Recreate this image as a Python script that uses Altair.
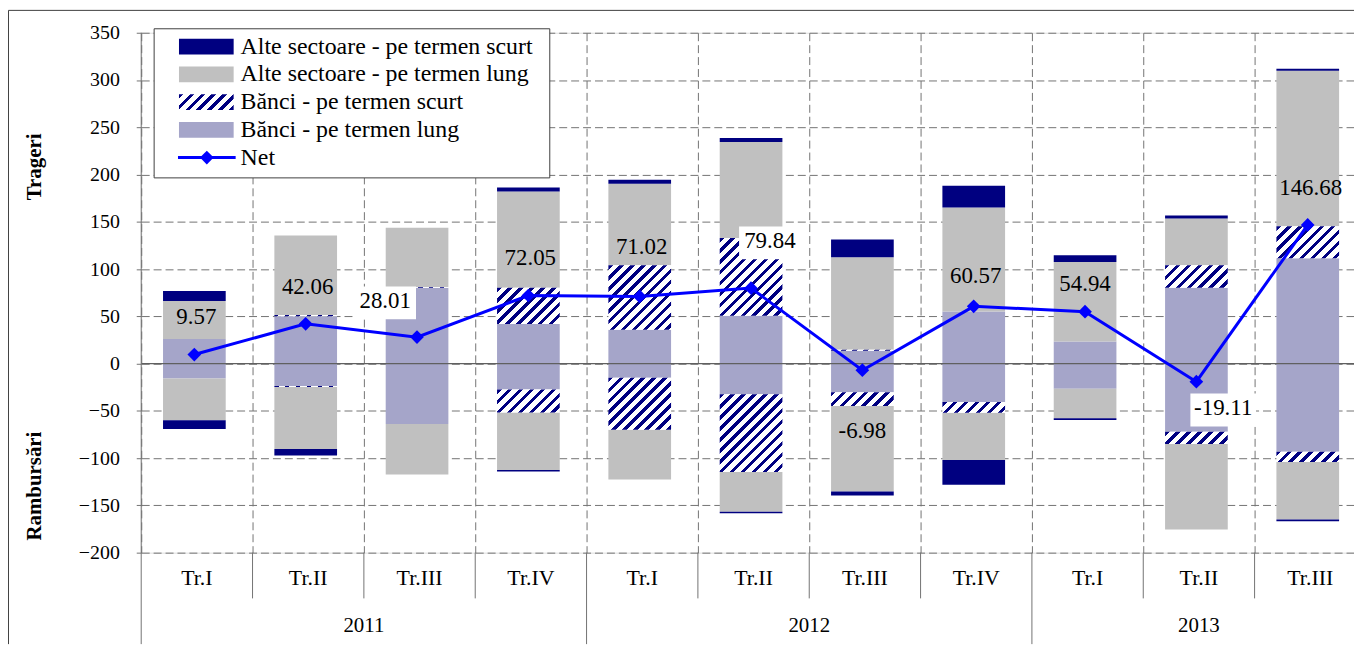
import altair as alt
import numpy as np
import pandas as pd

# ---------------- data ----------------
quarters = ["Tr.I", "Tr.II", "Tr.III", "Tr.IV", "Tr.I", "Tr.II", "Tr.III", "Tr.IV", "Tr.I", "Tr.II", "Tr.III"]
years = ["2011", "2012", "2013"]
year_quarters = [4, 4, 3]

series_names = [
    "Alte sectoare - pe termen scurt",
    "Alte sectoare - pe termen lung",
    "Bănci - pe termen scurt",
    "Bănci - pe termen lung",
]

# Trageri (positive side)
alte_scurt_pos = [10.6, 0, 0, 4.2, 4.2, 4.2, 18.9, 23.1, 7.0, 3.2, 2.1]
alte_lung_pos = [40.2, 84.1, 62.7, 101.8, 86.3, 101.5, 97.8, 110.1, 84.1, 49.4, 164.5]
banci_scurt_pos = [0, 1.5, 0.8, 38.2, 68.3, 82.5, 1.0, 0, 0, 23.9, 33.9]
banci_lung_pos = [26.0, 50.0, 80.3, 42.0, 35.7, 50.5, 13.7, 55.0, 23.5, 80.2, 111.5]

# Rambursari (negative side)
alte_scurt_neg = [-9.1, -7.0, 0, -1.7, 0, -1.7, -4.2, -26.0, -1.8, 0, -2.1]
alte_lung_neg = [-44.2, -65.5, -53.3, -60.7, -52.6, -42.0, -90.4, -50.2, -31.2, -90.3, -60.7]
banci_scurt_neg = [0, -1.0, 0, -24.5, -55.1, -82.3, -14.7, -11.2, 0, -12.9, -10.9]
banci_lung_neg = [-15.8, -23.8, -64.0, -27.3, -15.0, -32.3, -30.2, -40.7, -26.6, -72.2, -93.2]

net = [9.57, 42.06, 28.01, 72.05, 71.02, 79.84, -6.98, 60.57, 54.94, -19.11, 146.68]

# ---------------- styles / layout ----------------
FONT = "Liberation Serif"
NAVY = "#000080"
SILVER = "#C0C0C0"
CHECK = "#a5a5c9"
BLUE = "#0000FF"
GRID = "#737373"

W_PLOT = 1220
H_PLOT = 523
STEP = 112.0
X_MAX = W_PLOT / STEP
Y_MIN, Y_MAX = -200, 350
PX_Y = H_PLOT / (Y_MAX - Y_MIN)
BAR_L, BAR_R, CENTER = 0.196, 0.759, 0.477
BAR_W = (BAR_R - BAR_L) * STEP

XS = alt.Scale(domain=[0, X_MAX], nice=False, zero=False)
YS = alt.Scale(domain=[Y_MIN, Y_MAX], nice=False, zero=False)
XA = alt.Axis(values=list(range(0, 11)), grid=True, gridDash=[8, 4], gridColor=GRID,
              gridWidth=1, labels=False, ticks=False, domain=False, title=None)
YA = alt.Axis(values=list(range(-200, 351, 50)), grid=True, gridDash=[8, 4], gridColor=GRID,
              gridWidth=1, domain=False, ticks=True, tickSize=5, tickColor=GRID, tickWidth=1,
              labelFont=FONT, labelFontSize=20, labelColor="black", labelPadding=17,
              labelFlush=False, labelOverlap=False, title=None)


def X(f):
    return alt.X(f, scale=XS, axis=XA)


def Y(f):
    return alt.Y(f, scale=YS, axis=YA)


def hatch(w_px, h_px, period=11.0, frac=0.42, c1=NAVY, c2="white"):
    k = max(h_px, 0.5) / w_px
    s = (1 + k) / (1 + k * k)
    L = w_px + max(h_px, 0.5)
    stops = []
    j = 0
    while j * period / L < 1:
        a = j * period / L
        b = min((j * period + frac * period) / L, 1.0)
        c = min((j + 1) * period / L, 1.0)
        stops += [(a, c1), (b, c1), (b, c2), (c, c2)]
        j += 1
    return {
        "gradient": "linear", "x1": 0, "y1": 0, "x2": round(s, 5), "y2": round(s * k, 5),
        "stops": [{"offset": round(o, 5), "color": col} for o, col in stops],
    }


# ---------------- stacked segments ----------------
stack_order = [
    (series_names[3], banci_lung_pos, banci_lung_neg),
    (series_names[2], banci_scurt_pos, banci_scurt_neg),
    (series_names[1], alte_lung_pos, alte_lung_neg),
    (series_names[0], alte_scurt_pos, alte_scurt_neg),
]
rows = []
for i in range(len(quarters)):
    for side in (0, 1):
        cum = 0.0
        for name, pos, neg in stack_order:
            v = pos[i] if side == 0 else neg[i]
            if v == 0:
                continue
            rows.append({"i": i, "series": name, "y0": cum, "y1": cum + v,
                         "x0": i + BAR_L, "x1": i + BAR_R})
            cum += v
seg = pd.DataFrame(rows)

layers = []

solid = seg[seg["series"] != series_names[2]]
layers.append(
    alt.Chart(solid).mark_rect(strokeWidth=0).encode(
        x=X("x0:Q"), x2="x1:Q", y=Y("y0:Q"), y2="y1:Q",
        color=alt.Color("series:N", legend=None,
                        scale=alt.Scale(domain=[series_names[0], series_names[1], series_names[3]],
                                        range=[NAVY, SILVER, CHECK])),
    )
)

hatched = seg[seg["series"] == series_names[2]].reset_index(drop=True)
for r in range(len(hatched)):
    row = hatched.iloc[[r]]
    h_px = abs(float(row["y1"].iloc[0]) - float(row["y0"].iloc[0])) * PX_Y
    layers.append(
        alt.Chart(row).mark_rect(fill=hatch(BAR_W, h_px), strokeWidth=0).encode(
            x=X("x0:Q"), x2="x1:Q", y=Y("y0:Q"), y2="y1:Q"
        )
    )

# zero line
layers.append(
    alt.Chart(pd.DataFrame({"v": [0]})).mark_rule(color="#606060", strokeWidth=1.2).encode(
        y=Y("v:Q"), x=alt.value(0), x2=alt.value(W_PLOT)
    )
)
# y axis line, extended through category area
layers.append(
    alt.Chart(pd.DataFrame({"v": [0]})).mark_rule(color=GRID, strokeWidth=1).encode(
        x=alt.value(0), y=alt.value(0), y2=alt.value(H_PLOT + 92)
    )
)
# separators
year_bounds = list(np.cumsum(year_quarters)[:-1])
q_bounds = [b for b in range(1, len(quarters)) if b not in year_bounds]
layers.append(
    alt.Chart(pd.DataFrame({"b": q_bounds})).mark_rule(color=GRID, strokeWidth=1).encode(
        x=X("b:Q"), y=alt.value(H_PLOT), y2=alt.value(H_PLOT + 46)
    )
)
layers.append(
    alt.Chart(pd.DataFrame({"b": year_bounds})).mark_rule(color=GRID, strokeWidth=1).encode(
        x=X("b:Q"), y=alt.value(H_PLOT), y2=alt.value(H_PLOT + 92)
    )
)
# category labels
qdf = pd.DataFrame({"xq": [i + 0.5 for i in range(len(quarters))], "q": quarters})
layers.append(
    alt.Chart(qdf).mark_text(font=FONT, fontSize=22, color="black", baseline="middle").encode(
        x=X("xq:Q"), y=alt.value(H_PLOT + 26), text="q:N"
    )
)
starts = np.concatenate([[0], np.cumsum(year_quarters)[:-1]])
ydf = pd.DataFrame({"xy": [s + n / 2 for s, n in zip(starts, year_quarters)], "y": years})
layers.append(
    alt.Chart(ydf).mark_text(font=FONT, fontSize=21, color="black", baseline="middle").encode(
        x=X("xy:Q"), y=alt.value(H_PLOT + 74), text="y:N"
    )
)

# net line
netdf = pd.DataFrame({"xn": [i + CENTER for i in range(len(net))], "net": net,
                      "lab": [f"{v:.2f}" for v in net]})
layers.append(
    alt.Chart(netdf).mark_line(color=BLUE, strokeWidth=3).encode(x=X("xn:Q"), y=Y("net:Q"))
)
layers.append(
    alt.Chart(netdf).mark_point(shape="diamond", filled=True, color=BLUE, size=190, opacity=1).encode(
        x=X("xn:Q"), y=Y("net:Q")
    )
)

# data labels
label_off = [(2, -38), (2, -37), (-32, -36), (2, -38), (2, -50), (19, -47),
             (0, 61), (2, -30), (0, -28), (27, 27), (3, -37)]
boxed = {2: 31, 5: 31, 9: 33}
for i, (dx, dy) in enumerate(label_off):
    sub = netdf.iloc[[i]]
    if i in boxed:
        hw = boxed[i]
        path = f"M{dx - hw},{dy - 15}H{dx + hw}V{dy + 18}H{dx - hw}Z"
        layers.append(
            alt.Chart(sub).mark_point(shape=path, size=4, filled=True, color="white",
                                      opacity=1, strokeWidth=0).encode(x=X("xn:Q"), y=Y("net:Q"))
        )
    layers.append(
        alt.Chart(sub).mark_text(dx=dx, dy=dy, font=FONT, fontSize=23, color="black",
                                 baseline="middle").encode(x=X("xn:Q"), y=Y("net:Q"), text="lab:N")
    )

# axis titles
for txt, yc in [("Trageri", 135), ("Rambursări", 456)]:
    layers.append(
        alt.Chart(pd.DataFrame({"t": [txt]})).mark_text(
            angle=270, font=FONT, fontSize=21, fontWeight="bold", color="black",
            align="center", baseline="middle").encode(
            text="t:N", x=alt.value(-107), y=alt.value(yc))
    )

# manual legend
one = pd.DataFrame({"a": [0]})
layers.append(
    alt.Chart(one).mark_rect(fill="white", stroke="#404040", strokeWidth=1).encode(
        x=alt.value(13), x2=alt.value(411), y=alt.value(-4), y2=alt.value(146))
)
LEG_Y = [14 + 27.9 * k for k in range(5)]
swatch_fills = [NAVY, SILVER, hatch(55, 16), CHECK]
for k, f in enumerate(swatch_fills):
    layers.append(
        alt.Chart(one).mark_rect(fill=f, strokeWidth=0).encode(
            x=alt.value(38), x2=alt.value(93), y=alt.value(LEG_Y[k] - 8), y2=alt.value(LEG_Y[k] + 8))
    )
layers.append(
    alt.Chart(one).mark_rule(color=BLUE, strokeWidth=3).encode(
        x=alt.value(37), x2=alt.value(95), y=alt.value(LEG_Y[4]))
)
layers.append(
    alt.Chart(one).mark_point(shape="diamond", filled=True, color=BLUE, size=190, opacity=1).encode(
        x=alt.value(66), y=alt.value(LEG_Y[4]))
)
legend_labels = series_names + ["Net"]
for k, t in enumerate(legend_labels):
    layers.append(
        alt.Chart(pd.DataFrame({"t": [t]})).mark_text(
            font=FONT, fontSize=24, color="black", align="left", baseline="middle").encode(
            text="t:N", x=alt.value(100), y=alt.value(LEG_Y[k]))
    )

# outer chart-area border
layers.append(
    alt.Chart(one).mark_rule(color="#404040", strokeWidth=1).encode(
        x=alt.value(-133.5), y=alt.value(-22.5), y2=alt.value(H_PLOT + 92))
)
layers.append(
    alt.Chart(one).mark_rule(color="#404040", strokeWidth=1).encode(
        x=alt.value(-133.5), x2=alt.value(W_PLOT), y=alt.value(-22.5))
)

chart = alt.layer(*layers).properties(
    width=W_PLOT, height=H_PLOT,
    autosize=alt.AutoSizeParams(type="none"),
    padding={"left": 134, "top": 23, "right": 0, "bottom": 92},
).configure_view(stroke=None).configure(background="white")

chart.save("out.html", embed_options={"renderer": "svg", "actions": False})
